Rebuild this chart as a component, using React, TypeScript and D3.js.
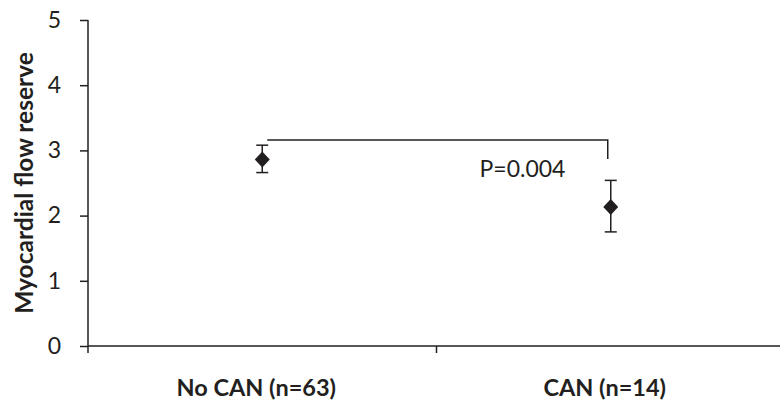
import * as d3 from "d3";
import { useEffect, useRef } from "react";

const groups = ["No CAN (n=63)", "CAN (n=14)"];
const means = [2.86, 2.13];
const lower = [2.66, 1.75];
const upper = [3.08, 2.54];
const yTicks = [0, 1, 2, 3, 4, 5];
const bracketLevel = 3.16;
const bracketDrop = 2.87;
const pLabel = "P=0.004";
const yTitle = "Myocardial flow reserve";

const W = 780;
const H = 405;
const ink = "#231f20";
const font = "Lato, 'Open Sans', sans-serif";

export default function App() {
  const svgRef = useRef<SVGSVGElement>(null);

  useEffect(() => {
    document.body.style.margin = "0";
    if (!svgRef.current) return;
    const svg = d3.select(svgRef.current);
    svg.selectAll("*").remove();

    const left = 88;
    const right = 785;
    const top = 20;
    const bottom = 346;

    const x = d3.scaleBand().domain(groups).range([left, right]).padding(0);
    const y = d3.scaleLinear().domain([0, 5]).range([bottom, top]);
    const cx = (g: string) => x(g)! + x.bandwidth() / 2;

    // y axis
    const yAxis = svg
      .append("g")
      .attr("transform", `translate(${left},0)`)
      .call(d3.axisLeft(y).tickValues(yTicks).tickSize(8).tickPadding(19).tickFormat(d3.format("d")));
    yAxis.select(".domain").attr("stroke", ink).attr("stroke-width", 1.5).attr("d", `M0,${bottom}V${top}`);
    yAxis.selectAll(".tick line").attr("stroke", ink).attr("stroke-width", 1.5);
    yAxis
      .selectAll(".tick text")
      .attr("fill", ink)
      .style("font-family", font)
      .style("font-size", "23px");

    // x axis
    const xAxis = svg.append("g").attr("transform", `translate(0,${bottom})`);
    xAxis
      .append("line")
      .attr("x1", left)
      .attr("x2", right)
      .attr("stroke", ink)
      .attr("stroke-width", 1.5);
    const bounds = [left, ...groups.map((g) => x(g)! + x.bandwidth())];
    xAxis
      .selectAll("line.tk")
      .data(bounds)
      .enter()
      .append("line")
      .attr("class", "tk")
      .attr("x1", (d) => d)
      .attr("x2", (d) => d)
      .attr("y1", 0)
      .attr("y2", 7)
      .attr("stroke", ink)
      .attr("stroke-width", 1.5);
    xAxis
      .selectAll("text")
      .data(groups)
      .enter()
      .append("text")
      .attr("x", (d) => cx(d) - 6)
      .attr("y", 50)
      .attr("text-anchor", "middle")
      .attr("fill", ink)
      .style("font-family", font)
      .style("font-weight", "bold")
      .style("font-size", "23.5px")
      .text((d) => d);

    // y title
    svg
      .append("text")
      .attr("transform", `translate(33,${(top + bottom) / 2}) rotate(-90)`)
      .attr("text-anchor", "middle")
      .attr("fill", ink)
      .style("font-family", font)
      .style("font-weight", "bold")
      .style("font-size", "24.5px")
      .text(yTitle);

    // error bars
    const pts = groups.map((g, i) => ({ g, m: means[i], lo: lower[i], hi: upper[i] }));
    const eb = svg.append("g").attr("stroke", ink).attr("stroke-width", 1.5);
    pts.forEach((p) => {
      const px = cx(p.g);
      eb.append("line").attr("x1", px).attr("x2", px).attr("y1", y(p.hi)).attr("y2", y(p.lo));
      eb.append("line").attr("x1", px - 6).attr("x2", px + 6).attr("y1", y(p.hi)).attr("y2", y(p.hi));
      eb.append("line").attr("x1", px - 6).attr("x2", px + 6).attr("y1", y(p.lo)).attr("y2", y(p.lo));
    });

    // diamonds
    svg
      .selectAll("path.pt")
      .data(pts)
      .enter()
      .append("path")
      .attr("class", "pt")
      .attr("d", (p) => {
        const px = cx(p.g);
        const py = y(p.m);
        return `M${px},${py - 8}L${px + 7.5},${py}L${px},${py + 8}L${px - 7.5},${py}Z`;
      })
      .attr("fill", ink);

    // significance bracket
    const bx1 = cx(groups[0]) + 5;
    const bx2 = cx(groups[1]) - 3;
    svg
      .append("path")
      .attr("d", `M${bx1},${y(bracketLevel)}H${bx2}V${y(bracketDrop)}`)
      .attr("fill", "none")
      .attr("stroke", ink)
      .attr("stroke-width", 1.5);
    svg
      .append("text")
      .attr("x", (bx1 + bx2) / 2 + 85)
      .attr("y", y(bracketLevel) + 37)
      .attr("text-anchor", "middle")
      .attr("fill", ink)
      .style("font-family", font)
      .style("font-size", "23px")
      .text(pLabel);
  }, []);

  return <svg ref={svgRef} width={W} height={H} style={{ display: "block", background: "#fff" }} />;
}
